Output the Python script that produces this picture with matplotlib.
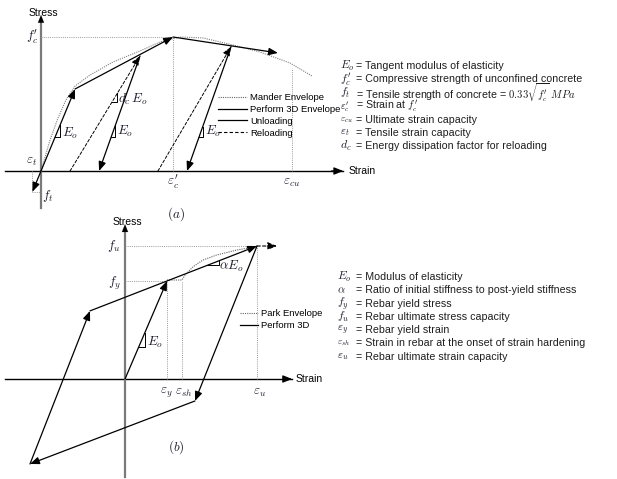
import matplotlib.pyplot as plt
from matplotlib.lines import Line2D

plt.rcParams['font.family'] = ['Liberation Sans', 'DejaVu Sans']
plt.rcParams['mathtext.fontset'] = 'cm'

# ---------------- panel (a) : concrete  (strain / eps'c , stress / f'c)
mander_strain = [0, 0.068, 0.129, 0.189, 0.258, 0.371, 0.545, 0.750, 0.902, 1.053, 1.227, 1.455, 1.659, 1.886, 2.053]
mander_stress = [0, 0.231, 0.396, 0.530, 0.634, 0.716, 0.813, 0.896, 0.963, 1.000, 0.993, 0.940, 0.888, 0.806, 0.709]
p3d_strain = [0, 0.258, 1.0, 1.795]
p3d_stress = [0, 0.612, 1.0, 0.881]
unload_a = [[(0.75, 0.858), (0.44, 0.0)], [(1.44, 0.928), (1.106, 0.0)]]
reload_a = [[(0.22, 0.0), (0.75, 0.858)], [(0.886, 0.0), (1.44, 0.928)]]
tension_pt = (-0.065, -0.155)
eps_c, fc = 1.0, 1.0
eps_cu, eps_cu_top = 1.90, 0.77

legend_a = ['Mander Envelope', 'Perform 3D Envelope', 'Unloading', 'Reloading']
notes_a = [(r'$E_o$', 'Tangent modulus of elasticity'),
           (r"$f_c'$", 'Compressive strength of unconfined concrete'),
           (r'$f_t$', r"Tensile strength of concrete = $0.33\sqrt{f_c'}\ MPa$"),
           (r"$\varepsilon_c'$", r"Strain at $f_c'$"),
           (r'$\varepsilon_{cu}$', 'Ultimate strain capacity'),
           (r'$\varepsilon_t$', 'Tensile strain capacity'),
           (r'$d_c$', 'Energy dissipation factor for reloading')]
sym_size_a = [8.5, 8.5, 8.5, 7.5, 7, 8, 8.5]

# ---------------- panel (b) : rebar  (strain / eps_y , stress / f_y)
park_strain = [1.0, 1.357, 1.43, 1.62, 1.857, 2.18, 2.66, 3.05, 3.143]
park_stress = [1.01, 1.01, 1.06, 1.146, 1.214, 1.265, 1.316, 1.344, 1.357]
eps_y, eps_sh, eps_u = 1.0, 1.357, 3.143
fy, fu = 1.0, 1.357
cycle_b = [(0, 0), (1.0, 1.0)]
loop_b = [(-0.833, 0.695), (3.143, 1.357), (1.667, -0.224), (-2.262, -0.867), (-0.833, 0.695)]
ext_b = [(3.143, 1.357), (3.62, 1.357)]

legend_b = ['Park Envelope', 'Perform 3D']
notes_b = [(r'$E_o$', 'Modulus of elasticity'),
           (r'$\alpha$', 'Ratio of initial stiffness to post-yield stiffness'),
           (r'$f_y$', 'Rebar yield stress'),
           (r'$f_u$', 'Rebar ultimate stress capacity'),
           (r'$\varepsilon_y$', 'Rebar yield strain'),
           (r'$\varepsilon_{sh}$', 'Strain in rebar at the onset of strain hardening'),
           (r'$\varepsilon_u$', 'Rebar ultimate strain capacity')]
sym_size_b = [8.5, 8, 8.5, 8.5, 8, 7, 8]

W, H = 617, 479
fig = plt.figure(figsize=(W / 100, H / 100), dpi=100)


def panel(ox, oy, sx, sy):
    # axes over whole figure, origin at pixel (ox, oy)
    ax = fig.add_axes([0, 0, 1, 1])
    ax.patch.set_alpha(0)
    ax.set_xlim(-ox / sx, (W - ox) / sx)
    ax.set_ylim((oy - H) / sy, oy / sy)
    ax.axis('off')
    return ax


def arrow(ax, p, q, ls='-', lw=0.9):
    ax.annotate('', xy=q, xytext=p,
                arrowprops=dict(arrowstyle='-|>,head_length=0.5,head_width=0.2', color='black',
                                lw=lw, ls=ls, shrinkA=0, shrinkB=0, mutation_scale=11))


def slope_tri(ax, p, q, y1, y2):
    # small slope triangle sitting on line p-q
    def xat(y):
        return p[0] + (q[0] - p[0]) * (y - p[1]) / (q[1] - p[1])
    ax.plot([xat(y1), xat(y2), xat(y2)], [y1, y1, y2], color='black', lw=0.7)


def guide(ax, xs, ys):
    ax.plot(xs, ys, color='#9a9a9a', lw=0.7, ls=(0, (1, 1.2)))


def notes(x_sym, x_txt, y0, dy, rows, sizes):
    for i, (sym, txt) in enumerate(rows):
        y = 1 - (y0 + i * dy) / H
        fig.text(x_sym / W, y, sym, fontsize=sizes[i], va='center', color='#1e1e2e')
        fig.text(x_txt / W, y, '= ' + txt, fontsize=7.7, va='center', color='#1e1e1e')


mfont = dict(fontsize=9.5, color='#1e1e2e')

# ================= panel (a)
ax = panel(41, 171, 132, 134)
ax.plot([-0.273, 2.29], [0, 0], color='black', lw=1.0)
arrow(ax, (2.2, 0), (2.29, 0))
ax.plot([0, 0], [-0.276, 1.13], color='#7a7a7a', lw=1.6)
arrow(ax, (0, 1.10), (0, 1.165), lw=0.1)

guide(ax, [0, eps_c], [fc, fc])
guide(ax, [eps_c, eps_c], [0, fc])
guide(ax, [eps_cu, eps_cu], [0, eps_cu_top])
guide(ax, [tension_pt[0], tension_pt[0]], [0, tension_pt[1]])
guide(ax, [tension_pt[0], 0], [tension_pt[1], tension_pt[1]])

ax.plot(mander_strain, mander_stress, color='#808080', lw=0.8, ls=(0, (1, 1)))
for i in range(len(p3d_strain) - 1):
    arrow(ax, (p3d_strain[i], p3d_stress[i]), (p3d_strain[i + 1], p3d_stress[i + 1]))
arrow(ax, (0, 0), tension_pt)
for p, q in unload_a:
    arrow(ax, p, q)
for p, q in reload_a:
    arrow(ax, p, q, ls=(0, (3, 2)), lw=0.7)

slope_tri(ax, (0, 0), (p3d_strain[1], p3d_stress[1]), 0.256, 0.343)
slope_tri(ax, *reload_a[0], 0.517, 0.580)
slope_tri(ax, unload_a[0][1], unload_a[0][0], 0.256, 0.343)
slope_tri(ax, unload_a[1][1], unload_a[1][0], 0.254, 0.328)
ax.text(0.159, 0.284, r'$E_o$', va='center', **mfont)
ax.text(0.583, 0.537, r'$d_c\,E_o$', va='center', **mfont)
ax.text(0.576, 0.293, r'$E_o$', va='center', **mfont)
ax.text(1.242, 0.293, r'$E_o$', va='center', **mfont)

ax.text(0.015, 1.18, 'Stress', ha='center', va='center', fontsize=7.5)
ax.text(2.33, 0.0, 'Strain', ha='left', va='center', fontsize=7.5)
ax.text(-0.02, fc, r"$f_c'$", ha='right', va='center', **mfont)
ax.text(-0.07, 0.07, r'$\varepsilon_t$', ha='center', va='center', **mfont)
ax.text(0.053, -0.19, r'$f_t$', ha='center', va='center', **mfont)
ax.text(eps_c, -0.08, r"$\varepsilon_c'$", ha='center', va='center', **mfont)
ax.text(eps_cu, -0.085, r'$\varepsilon_{cu}$', ha='center', va='center', **mfont)
ax.text(1.023, -0.325, r'$(a)$', ha='center', va='center', **mfont)

handles_a = [Line2D([], [], color='#666666', lw=0.8, ls=(0, (1, 1))),
             Line2D([], [], color='black', lw=0.9),
             Line2D([], [], color='black', lw=0.9),
             Line2D([], [], color='black', lw=0.8, ls=(0, (3, 2)))]
ax.legend(handles_a, legend_a, loc='upper left', bbox_to_anchor=(218 / W, 1 - 93 / H),
          bbox_transform=fig.transFigure, frameon=False, fontsize=6.8, handlelength=3.1,
          handletextpad=0.3, labelspacing=0.3, borderpad=0, borderaxespad=0)

notes(340, 356, 66, 13.4, notes_a, sym_size_a)

# ================= panel (b)
bx = panel(125, 379, 42, 98)
bx.plot([-2.857, 3.98], [0, 0], color='black', lw=1.0)
arrow(bx, (3.8, 0), (3.98, 0))
bx.plot([0, 0], [-1.0, 1.53], color='#7a7a7a', lw=1.6)
arrow(bx, (0, 1.50), (0, 1.58), lw=0.1)

guide(bx, [0, eps_u], [fu, fu])
guide(bx, [0, eps_y], [fy, fy])
guide(bx, [eps_y, eps_y], [0, fy])
guide(bx, [eps_sh, eps_sh], [0, fy])
guide(bx, [eps_u, eps_u], [0, fu])

bx.plot(park_strain, park_stress, color='#666666', lw=0.8, ls=(0, (1, 1)))
arrow(bx, *cycle_b)
for i in range(len(loop_b) - 1):
    arrow(bx, loop_b[i], loop_b[i + 1])
arrow(bx, *ext_b, ls=(0, (3, 2)), lw=0.8)

slope_tri(bx, *cycle_b, 0.327, 0.469)
slope_tri(bx, loop_b[0], loop_b[1], 1.16, 1.205)
bx.text(0.524, 0.378, r'$E_o$', va='center', **mfont)
bx.text(2.24, 1.15, r'$\alpha E_o$', va='center', **mfont)

bx.text(0.048, 1.60, 'Stress', ha='center', va='center', fontsize=7.5)
bx.text(4.05, 0.0, 'Strain', ha='left', va='center', fontsize=7.5)
bx.text(-0.095, fu, r'$f_u$', ha='right', va='center', **mfont)
bx.text(-0.095, fy - 0.02, r'$f_y$', ha='right', va='center', **mfont)
bx.text(eps_y - 0.02, -0.14, r'$\varepsilon_y$', ha='center', va='center', **mfont)
bx.text(eps_sh + 0.05, -0.14, r'$\varepsilon_{sh}$', ha='center', va='center', **mfont)
bx.text(eps_u + 0.05, -0.14, r'$\varepsilon_u$', ha='center', va='center', **mfont)
bx.text(1.214, -0.694, r'$(b)$', ha='center', va='center', **mfont)

handles_b = [Line2D([], [], color='#666666', lw=0.8, ls=(0, (1, 1))),
             Line2D([], [], color='black', lw=0.9)]
bx.legend(handles_b, legend_b, loc='upper left', bbox_to_anchor=(240 / W, 1 - 309 / H),
          bbox_transform=fig.transFigure, frameon=False, fontsize=6.8, handlelength=1.9,
          handletextpad=0.3, labelspacing=0.3, borderpad=0, borderaxespad=0)

notes(337, 356, 277, 13.3, notes_b, sym_size_b)

fig.savefig('out.png', dpi=100)
